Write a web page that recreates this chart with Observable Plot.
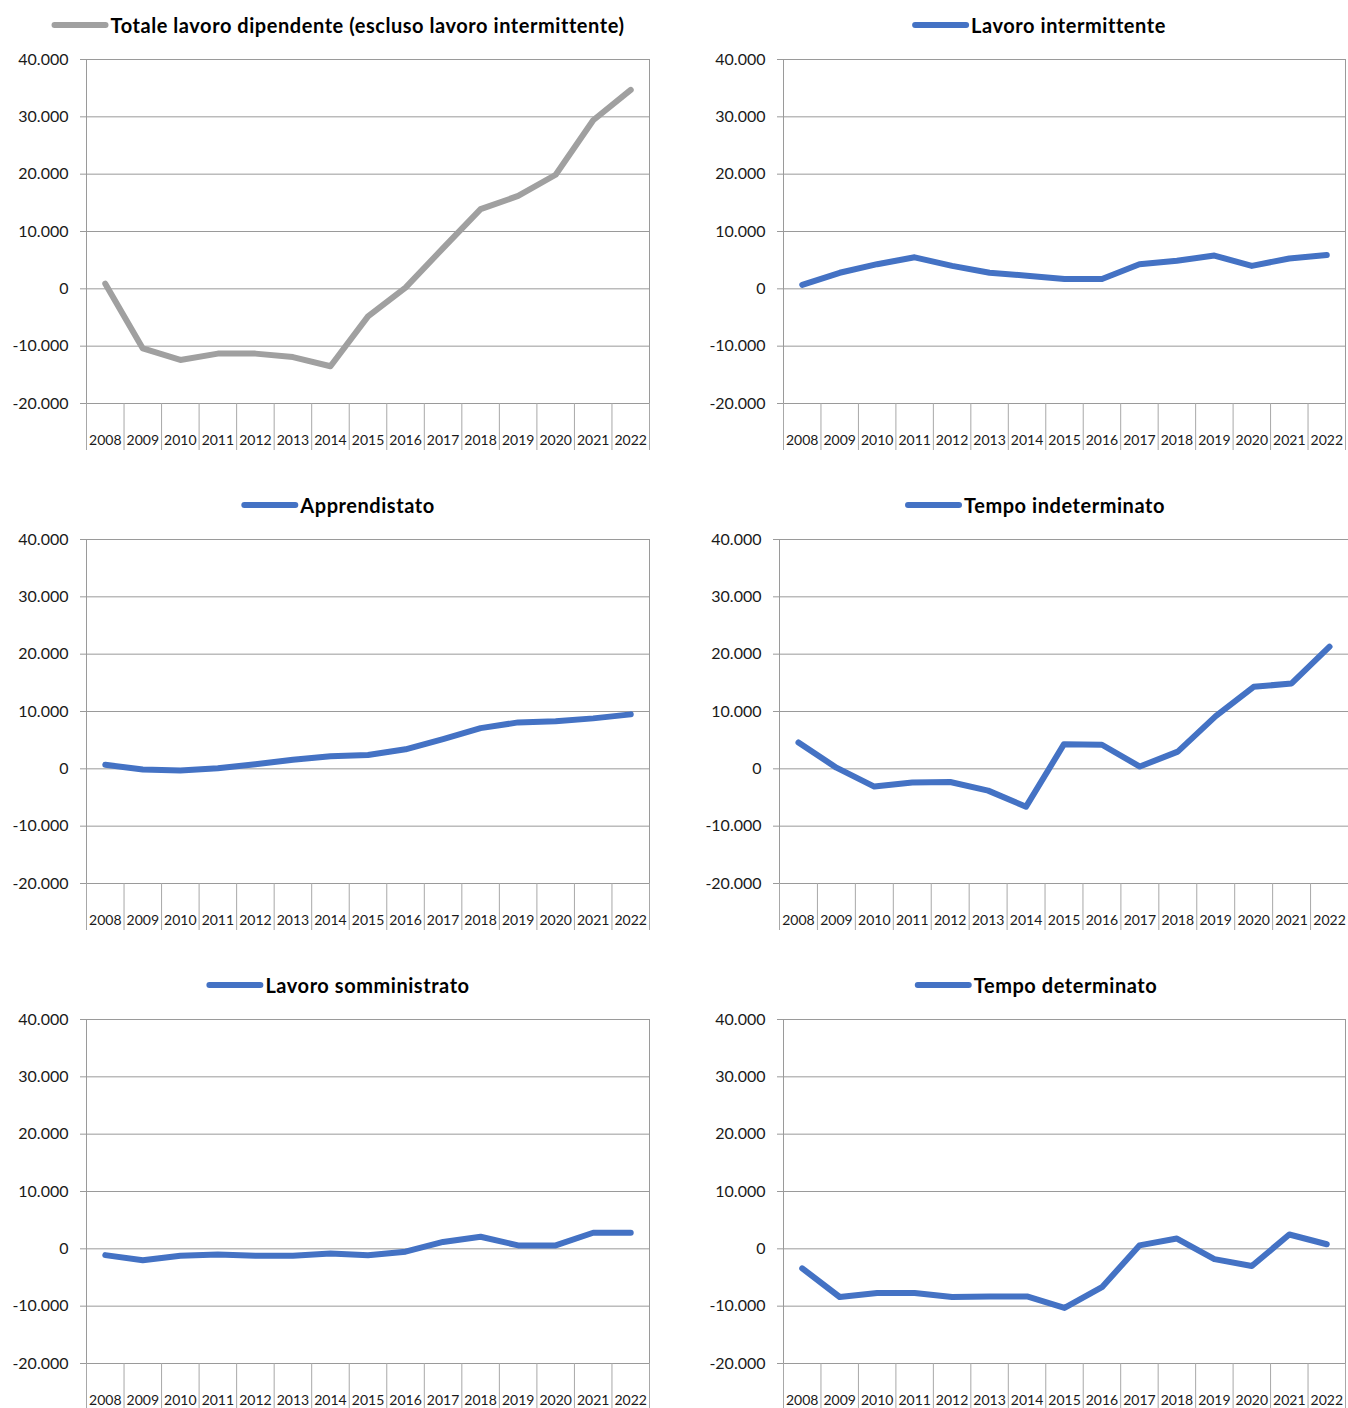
<!DOCTYPE html>
<html><head><meta charset="utf-8">
<script src="https://cdn.jsdelivr.net/npm/d3@7"></script>
<script src="https://cdn.jsdelivr.net/npm/@observablehq/plot@0.6"></script>
<style>
html,body{margin:0;padding:0;background:#fff;overflow:hidden;}
#grid{position:relative;width:1348px;height:1408px;}
.panel{position:absolute;width:674px;height:480px;}
.title{position:absolute;top:13px;transform:translateX(-50%);white-space:nowrap;font-family:Lato,sans-serif;font-weight:bold;font-size:20px;letter-spacing:0.55px;display:flex;align-items:center;height:24px;color:#000;}
.sw{display:inline-block;width:57px;height:6px;border-radius:3px;margin-right:2px;}
.panel svg{position:absolute;top:40px;left:0;}
</style></head><body><div id="grid"></div>
<script>
const years = [2008,2009,2010,2011,2012,2013,2014,2015,2016,2017,2018,2019,2020,2021,2022];
const yTicks = [-20000,-10000,0,10000,20000,30000,40000];

const titles = [
  "Totale lavoro dipendente (escluso lavoro intermittente)",
  "Lavoro intermittente",
  "Apprendistato",
  "Tempo indeterminato",
  "Lavoro somministrato",
  "Tempo determinato"
];
const totale         = [900,-10400,-12400,-11300,-11300,-11900,-13500,-4800,200,7100,13900,16200,19900,29400,34700];
const intermittente  = [700,2800,4300,5500,4000,2800,2300,1700,1700,4300,4900,5800,4000,5300,5900];
const apprendistato  = [700,-100,-300,100,800,1600,2200,2400,3400,5200,7100,8100,8300,8800,9500];
const indeterminato  = [4600,200,-3100,-2400,-2300,-3800,-6600,4300,4200,400,3000,9200,14300,14900,21300];
const somministrato  = [-1100,-2000,-1200,-1000,-1200,-1200,-800,-1100,-500,1200,2100,600,600,2800,2800];
const determinato    = [-3400,-8400,-7700,-7700,-8400,-8300,-8300,-10300,-6700,600,1800,-1800,-3000,2500,800];

const series = [totale, intermittente, apprendistato, indeterminato, somministrato, determinato];
const colors = ["#A0A0A0","#4472C4","#4472C4","#4472C4","#4472C4","#4472C4"];

// layout (pixels)
const layout = [
  {left:0,   top:0,   ml:86,  mr:25, tc:338},
  {left:674, top:0,   ml:109, mr:3,  tc:365},
  {left:0,   top:480, ml:86,  mr:25, tc:338},
  {left:674, top:480, ml:105, mr:0,  tc:361},
  {left:0,   top:960, ml:86,  mr:25, tc:338},
  {left:674, top:960, ml:109, mr:3,  tc:362}
];

const fmt = d3.formatLocale({decimal:",", thousands:".", grouping:[3], currency:["","€"], minus:"-"}).format(",");
const bounds = years.map(y => y - 0.5).concat([years[years.length-1] + 0.5]);

const grid = document.getElementById("grid");
series.forEach((vals, i) => {
  const L = layout[i];
  const panel = document.createElement("div");
  panel.className = "panel";
  panel.style.left = L.left + "px";
  panel.style.top = L.top + "px";
  const t = document.createElement("div");
  t.className = "title";
  t.style.left = L.tc + "px";
  const sw = document.createElement("span");
  sw.className = "sw";
  sw.style.background = colors[i];
  t.appendChild(sw);
  t.appendChild(document.createTextNode(titles[i]));
  panel.appendChild(t);

  const data = years.map((y, k) => ({year: y, value: vals[k]}));
  const chart = Plot.plot({
    width: 674, height: 440,
    marginTop: 19, marginBottom: 77, marginLeft: L.ml, marginRight: L.mr,
    style: {fontFamily: "Lato, sans-serif", background: "#fff", overflow: "visible"},
    x: {domain: [bounds[0], bounds[bounds.length-1]], label: null},
    y: {domain: [-20000, 40000], label: null},
    marks: [
      Plot.ruleY(yTicks, {stroke: "#9a9a9a", strokeWidth: 1}),
      Plot.ruleX([bounds[0], bounds[bounds.length-1]], {stroke: "#9a9a9a", strokeWidth: 1}),
      Plot.axisY({ticks: yTicks, tickFormat: fmt, tickSize: 6, tickPadding: 12, fontSize: 16, stroke: "#9a9a9a", fill: "#1a1a1a", label: null}),
      Plot.axisX({ticks: bounds, tickSize: 47, tickFormat: () => "", stroke: "#a8a8a8", label: null}),
      Plot.axisX({ticks: years, tickSize: 0, tickPadding: 32, tickFormat: d => String(d), fontSize: 14, fill: "#1a1a1a", label: null}),
      Plot.line(data, {x: "year", y: "value", stroke: colors[i], strokeWidth: 6, strokeLinecap: "round", strokeLinejoin: "round"})
    ]
  });
  panel.appendChild(chart);
  grid.appendChild(panel);
});
</script>
</body></html>
